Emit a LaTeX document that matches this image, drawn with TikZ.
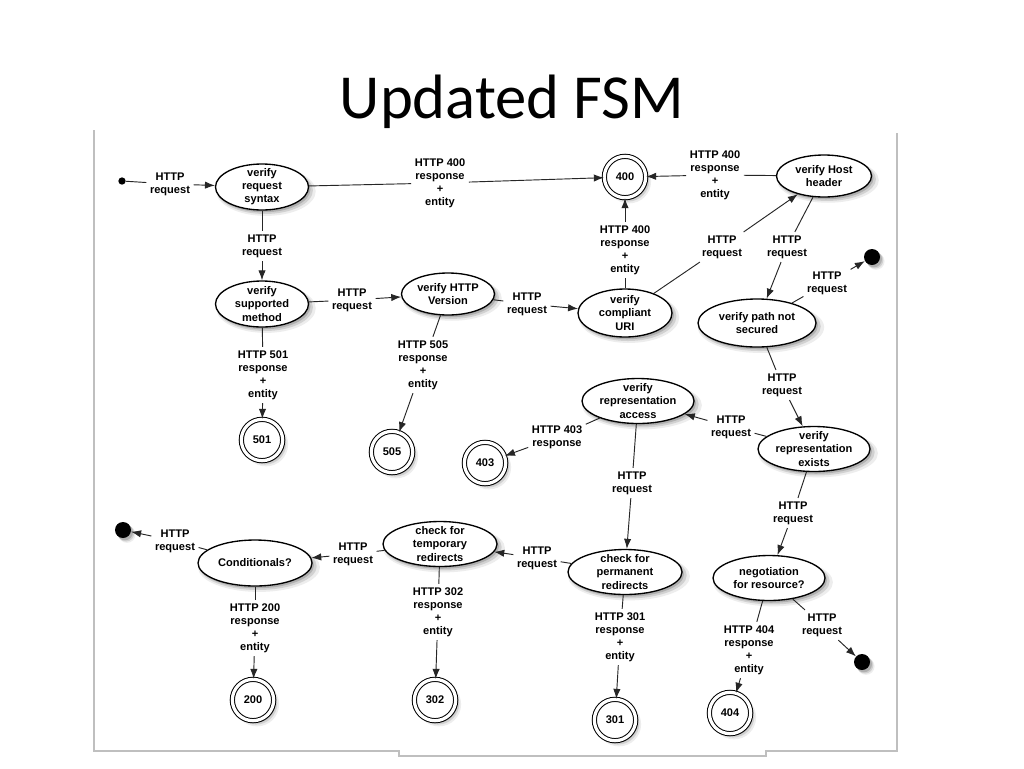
\documentclass[tikz,border=0pt]{standalone}
\usepackage{fontspec}
\setmainfont{Liberation Sans}
\newfontfamily\titlefont{Carlito}
\usetikzlibrary{shapes.geometric,shadows,arrows.meta}
\begin{document}
\begin{tikzpicture}[x=0.75pt,y=-0.75pt,
  txt/.style={font=\fontsize{8.3}{9.8}\selectfont\bfseries, align=center},
  lbl/.style={txt, inner sep=2.5pt},
  soft/.style={drop shadow={shadow xshift=2.8pt,shadow yshift=-3pt,opacity=0.14,shadow scale=1.07},
               drop shadow={shadow xshift=2.2pt,shadow yshift=-2.4pt,opacity=0.25,shadow scale=1.03},
               drop shadow={shadow xshift=1.5pt,shadow yshift=-1.7pt,opacity=0.4}},
  sz/.style 2 args={minimum width=#1*0.75pt, minimum height=#2*0.75pt},
  state/.style={ellipse, draw, line width=1pt, fill=white, inner sep=0pt, soft},
  accept/.style={circle, draw, double, double distance=2.4pt, line width=0.75pt, fill=white,
                 minimum size=31pt, inner sep=0pt, soft, txt},
  enddot/.style={circle, fill=black, minimum size=12pt, inner sep=0pt, soft},
  startdot/.style={circle, fill=black, minimum size=5.5pt, inner sep=0pt},
  edge/.style={draw=black!85, line width=0.7pt},
  arr/.style={edge, -{Latex[length=7.5pt,width=5.5pt]}},
  frame/.style={draw=black!25, line width=0.8pt}
]
\useasboundingbox (0,0) rectangle (1024,768);
\fill[white] (0,0) rectangle (1024,768);

% title
\node[font=\titlefont\fontsize{47}{52}\selectfont, anchor=base] (title) at (512,118) {Updated FSM};

% frame
\draw[frame] (94,130) -- (94,751) -- (399,751) -- (399,756) -- (766,756) -- (766,751) -- (897,751) -- (897,133);

% states
\node[state, sz={93}{46}, label={[txt]center:verify\\request\\syntax}] (syntax) at (262,187) {};
\node[state, sz={93}{46}, label={[txt]center:verify\\supported\\method}] (supported) at (262,304) {};
\node[state, sz={93}{42}, label={[txt]center:verify HTTP\\Version}] (version) at (448,294) {};
\node[state, sz={94}{48}, label={[txt]center:verify\\compliant\\URI}] (uri) at (625,313) {};
\node[state, sz={95}{42}, label={[txt]center:verify Host\\header}] (host) at (824,176) {};
\node[state, sz={118}{48}, label={[txt]center:verify path not\\secured}] (path) at (757,323) {};
\node[state, sz={112}{45}, label={[txt]center:verify\\representation\\access}] (access) at (638,401) {};
\node[state, sz={112}{45}, label={[txt]center:verify\\representation\\exists}] (exists) at (814,449) {};
\node[state, sz={112}{45}, label={[txt]center:negotiation\\for resource?}] (negot) at (769,578) {};
\node[state, sz={114}{45}, label={[txt]center:check for\\permanent\\redirects}] (perm) at (625,572) {};
\node[state, sz={114}{45}, label={[txt]center:check for\\temporary\\redirects}] (temp) at (440,544) {};
\node[state, sz={114}{46}, label={[txt]center:Conditionals?}] (cond) at (255,563) {};

% accepting states
\node[accept] (c400) at (625,177) {400};
\node[accept] (c501) at (262,440) {501};
\node[accept] (c505) at (392,452) {505};
\node[accept] (c403) at (485,463) {403};
\node[accept] (c200) at (253,700) {200};
\node[accept] (c302) at (435,700) {302};
\node[accept] (c301) at (615,720) {301};
\node[accept] (c404) at (730,713) {404};

% start / end dots
\node[startdot] (start) at (122,181) {};
\node[enddot] (endTR) at (872,257) {};
\node[enddot] (endL) at (123,530) {};
\node[enddot] (endBR) at (862,662) {};

% edge labels
\node[lbl] (l1) at (170,184) {HTTP\\request};
\node[lbl] (l2) at (440,183) {HTTP 400\\response\\+\\entity};
\node[lbl] (l3) at (262,246) {HTTP\\request};
\node[lbl] (l4) at (352,300) {HTTP\\request};
\node[lbl] (l5) at (527,304) {HTTP\\request};
\node[lbl] (l6) at (625,250) {HTTP 400\\response\\+\\entity};
\node[lbl] (l7) at (722,247) {HTTP\\request};
\node[lbl] (l8) at (715,175) {HTTP 400\\response\\+\\entity};
\node[lbl] (l9) at (787,247) {HTTP\\request};
\node[lbl] (l10) at (827,283) {HTTP\\request};
\node[lbl] (l11) at (263,375) {HTTP 501\\response\\+\\entity};
\node[lbl] (l12) at (423,365) {HTTP 505\\response\\+\\entity};
\node[lbl] (l13) at (782,385) {HTTP\\request};
\node[lbl] (l14) at (731,427) {HTTP\\request};
\node[lbl] (l15) at (557,437) {HTTP 403\\response};
\node[lbl] (l16) at (632,483) {HTTP\\request};
\node[lbl] (l17) at (793,513) {HTTP\\request};
\node[lbl] (l18) at (537,558) {HTTP\\request};
\node[lbl] (l19) at (620,637) {HTTP 301\\response\\+\\entity};
\node[lbl] (l20) at (353,554) {HTTP\\request};
\node[lbl] (l21) at (438,612) {HTTP 302\\response\\+\\entity};
\node[lbl] (l22) at (175,541) {HTTP\\request};
\node[lbl] (l23) at (255,628) {HTTP 200\\response\\+\\entity};
\node[lbl] (l24) at (749,650) {HTTP 404\\response\\+\\entity};
\node[lbl] (l25) at (822,625) {HTTP\\request};

% edges
\draw[edge] (start) -- (l1);   \draw[arr] (l1) -- (syntax);
\draw[edge] (syntax) -- (l2);  \draw[arr] (l2) -- (c400);
\draw[edge] (syntax) -- (l3);  \draw[arr] (l3) -- (supported);
\draw[edge] (supported) -- (l4); \draw[arr] (l4) -- (version);
\draw[edge] (version) -- (l5); \draw[arr] (l5) -- (uri);
\draw[edge] (uri) -- (l6);     \draw[arr] (l6) -- (c400);
\draw[edge] (uri) -- (l7);     \draw[arr] (l7) -- (host);
\draw[edge] (host) -- (l8);    \draw[arr] (l8) -- (c400);
\draw[edge] (host) -- (l9);    \draw[arr] (l9) -- (path);
\draw[edge] (path) -- (l10);   \draw[arr] (l10) -- (endTR);
\draw[edge] (supported) -- (l11); \draw[arr] (l11) -- (c501);
\draw[edge] (version) -- (l12); \draw[arr] (l12) -- (c505);
\draw[edge] (path) -- (l13);   \draw[arr] (l13) -- (exists);
\draw[edge] (exists) -- (l14); \draw[arr] (l14) -- (access);
\draw[edge] (access) -- (l15); \draw[arr] (l15) -- (c403);
\draw[edge] (access) -- (l16); \draw[arr] (l16) -- (perm);
\draw[edge] (exists) -- (l17); \draw[arr] (l17) -- (negot);
\draw[edge] (perm) -- (l18);   \draw[arr] (l18) -- (temp);
\draw[edge] (perm) -- (l19);   \draw[arr] (l19) -- (c301);
\draw[edge] (temp) -- (l20);   \draw[arr] (l20) -- (cond);
\draw[edge] (temp) -- (l21);   \draw[arr] (l21) -- (c302);
\draw[edge] (cond) -- (l22);   \draw[arr] (l22) -- (endL);
\draw[edge] (cond) -- (l23);   \draw[arr] (l23) -- (c200);
\draw[edge] (negot) -- (l24);  \draw[arr] (l24) -- (c404);
\draw[edge] (negot) -- (l25);  \draw[arr] (l25) -- (endBR);
\end{tikzpicture}
\end{document}
